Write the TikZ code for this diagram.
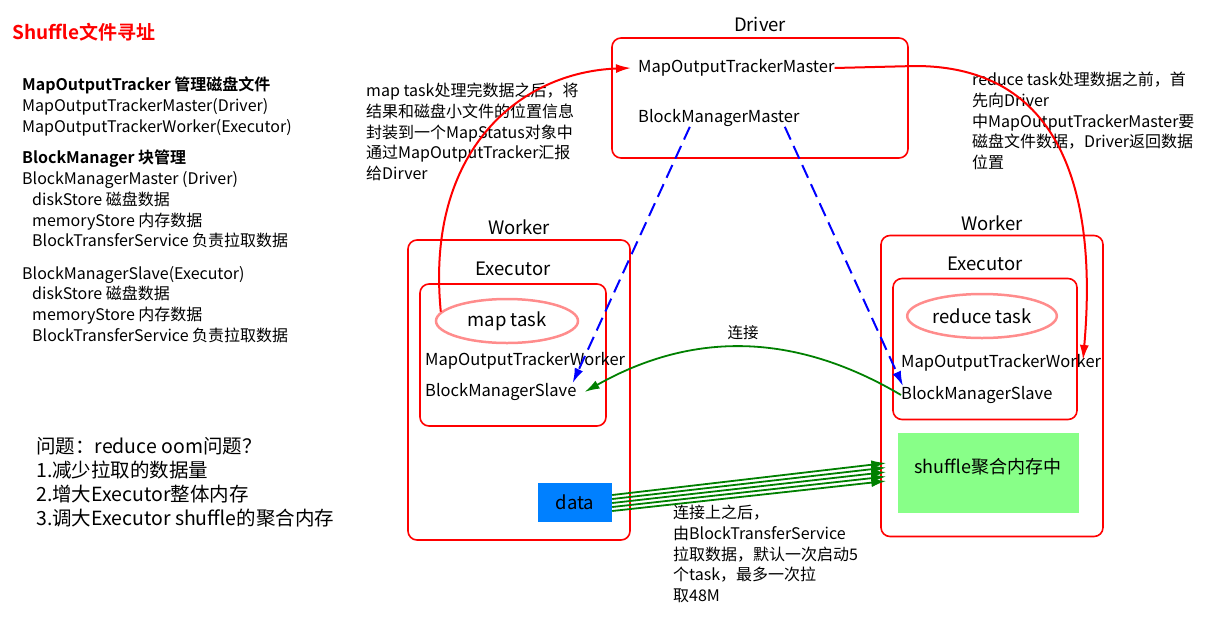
\documentclass[tikz,border=0pt]{standalone}
\usepackage{fontspec}
\setmainfont{Noto Sans CJK SC}[BoldFont={Noto Sans CJK SC Bold}]
\usetikzlibrary{arrows.meta,shapes.geometric,positioning,calc}
\definecolor{taskpink}{RGB}{255,140,140}
\definecolor{linkgreen}{RGB}{0,128,0}
\definecolor{datablue}{RGB}{0,128,255}
\definecolor{memgreen}{RGB}{136,255,136}
\tikzset{
    >={Latex[length=15pt,width=9pt]},
    box/.style={draw=red, line width=1.6pt, rounded corners=9pt},
    boxlabel/.style={font=\fontsize{18.5}{20}\selectfont, inner sep=0pt},
    item/.style={font=\fontsize{16.5}{20}\selectfont, inner sep=0pt, anchor=west},
    infotext/.style={font=\fontsize{16}{20.7}\selectfont, align=left, inner sep=0pt, anchor=north west},
    task/.style={ellipse, draw=taskpink, line width=2.5pt, minimum width=142pt, minimum height=44pt, font=\fontsize{18.5}{20}\selectfont},
    redarrow/.style={->, draw=red, line width=2pt},
    bluedash/.style={->, draw=blue, line width=2pt, dash pattern=on 14pt off 7pt},
    greenarrow/.style={->, draw=linkgreen, line width=1.8pt},
}

\begin{document}
\begin{tikzpicture}[x=1pt,y=-1pt]
    \useasboundingbox (0,0) rectangle (1225,616);

    % title and notes on the left
    \node[font=\fontsize{19}{20}\selectfont\bfseries, text=red, inner sep=0pt, anchor=west] (title) at (12,32) {Shuffle文件寻址};
    \node[infotext] (trackerInfo) at (22,77) {\textbf{MapOutputTracker 管理磁盘文件}\\MapOutputTrackerMaster(Driver)\\MapOutputTrackerWorker(Executor)};
    \node[infotext] (masterInfo) at (22,150) {\textbf{BlockManager 块管理}\\BlockManagerMaster (Driver)\\\hspace*{10pt}diskStore 磁盘数据\\\hspace*{10pt}memoryStore 内存数据\\\hspace*{10pt}BlockTransferService 负责拉取数据};
    \node[infotext] (slaveInfo) at (22,266) {BlockManagerSlave(Executor)\\\hspace*{10pt}diskStore 磁盘数据\\\hspace*{10pt}memoryStore 内存数据\\\hspace*{10pt}BlockTransferService 负责拉取数据};
    \node[infotext, font=\fontsize{19.5}{24}\selectfont] (oomInfo) at (36,437) {问题：reduce oom问题？\\1.减少拉取的数据量\\2.增大Executor整体内存\\3.调大Executor shuffle的聚合内存};

    % driver
    \node[box, minimum width=296pt, minimum height=120pt] (driver) at (760,98) {};
    \node[boxlabel, above=5pt of driver] (driverLbl) {Driver};
    \node[item] (mapMaster) at (638,68) {MapOutputTrackerMaster};
    \node[item] (bmMaster) at (638,118) {BlockManagerMaster};

    % map side worker
    \node[box, minimum width=222pt, minimum height=300pt] (lWorker) at (519,390) {};
    \node[boxlabel, above=4pt of lWorker] (lWorkerLbl) {Worker};
    \node[box, minimum width=186pt, minimum height=142pt] (lExec) at (513,355) {};
    \node[boxlabel, above=7pt of lExec] (lExecLbl) {Executor};
    \node[task] (mapTask) at (507,321) {map task};
    \node[item] (lTrackerW) at (425,361) {MapOutputTrackerWorker};
    \node[item] (lBmSlave) at (425,392) {BlockManagerSlave};
    \node[fill=datablue, minimum width=74pt, minimum height=39pt, font=\fontsize{18.5}{20}\selectfont] (data) at (575,502) {data};

    % reduce side worker
    \node[box, minimum width=222pt, minimum height=301pt] (rWorker) at (992,386) {};
    \node[boxlabel, above=4pt of rWorker] (rWorkerLbl) {Worker};
    \node[box, minimum width=184pt, minimum height=141pt] (rExec) at (985,349) {};
    \node[boxlabel, above=7pt of rExec] (rExecLbl) {Executor};
    \node[task] (reduceTask) at (982,316) {reduce task};
    \node[item] (rTrackerW) at (901,363) {MapOutputTrackerWorker};
    \node[item] (rBmSlave) at (901,395) {BlockManagerSlave};
    \node[fill=memgreen, minimum width=181pt, minimum height=80pt, text depth=14pt, font=\fontsize{18}{20}\selectfont] (shufMem) at (988,473) {shuffle聚合内存中};

    % annotations
    \node[infotext] (mapNote) at (366,83) {map task处理完数据之后，将\\结果和磁盘小文件的位置信息\\封装到一个MapStatus对象中\\通过MapOutputTracker汇报\\给Dirver};
    \node[infotext] (reduceNote) at (972,72) {reduce task处理数据之前，首\\先向Driver\\中MapOutputTrackerMaster要\\磁盘文件数据，Driver返回数据\\位置};
    \node[infotext] (pullNote) at (673,505) {连接上之后，\\由BlockTransferService\\拉取数据，默认一次启动5\\个task，最多一次拉\\取48M};
    \coordinate (reqIn) at (1083,360);

    % connectors
    \draw[redarrow] (mapTask.172) .. controls (425,150) and (520,72) .. ([xshift=-7pt]mapMaster.west);
    \draw[redarrow] (mapMaster.east) -- (915,66) .. controls (1060,66) and (1098,190) .. (reqIn);
    \draw[bluedash] ([xshift=-29pt]bmMaster.south) -- ([xshift=-4pt]lBmSlave.north east);
    \draw[bluedash] ([xshift=66pt]bmMaster.south) -- ([xshift=2pt]rBmSlave.north west);
    \draw[greenarrow] (rBmSlave.west) to[bend right=30] node[midway, above=6pt, font=\fontsize{15.5}{18}\selectfont, inner sep=0pt] (linkLbl) {连接} ([xshift=8pt]lBmSlave.east);
    \foreach \i in {0,...,4}
        \draw[greenarrow] ([yshift={7-4*\i}]data.east) -- ([xshift=-11pt, yshift={10-4.5*\i}]shufMem.west);
\end{tikzpicture}
\end{document}
